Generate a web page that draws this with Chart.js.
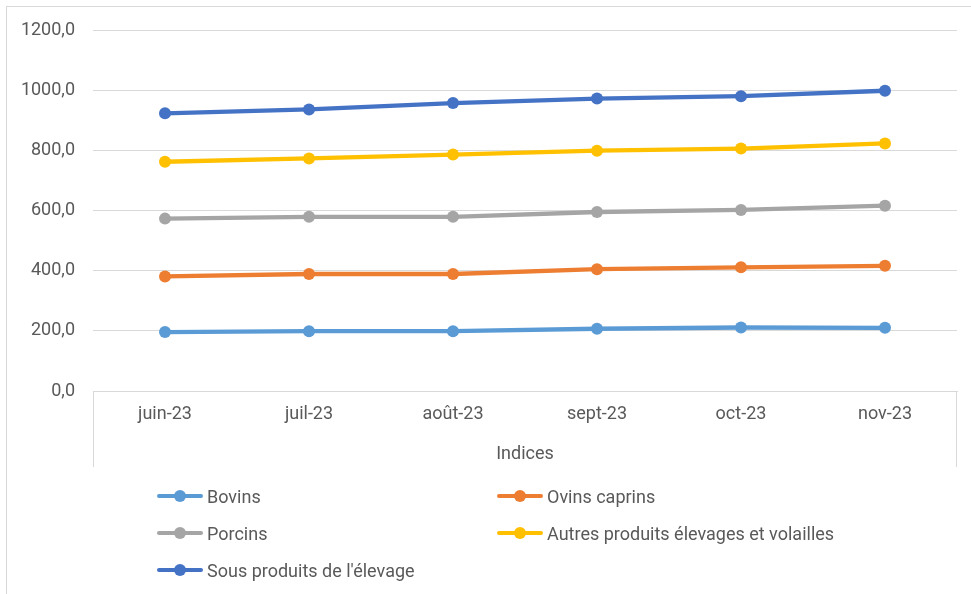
<!DOCTYPE html>
<html>
<head>
<meta charset="utf-8">
<script src="https://cdn.jsdelivr.net/npm/chart.js@4.4.1/dist/chart.umd.min.js"></script>
<style>
  html, body { margin: 0; padding: 0; background: #fff; }
  #wrap { position: relative; width: 971px; height: 594px; overflow: hidden; }
  #chart { position: absolute; left: 0; top: 0; }
  .lg { position: absolute; height: 22px; display: flex; align-items: center;
        font-family: Roboto, sans-serif; font-size: 18px; color: #595959; white-space: nowrap; }
  .sym { position: relative; width: 46px; height: 22px; margin-right: 4px; }
  .sym .ln { position: absolute; left: 0; right: 0; top: 9px; height: 4px; border-radius: 2px; }
  .sym .dt { position: absolute; left: 17px; top: 5px; width: 12px; height: 12px; border-radius: 50%; }
</style>
</head>
<body>
<div id="wrap">
  <canvas id="chart" width="971" height="594"></canvas>
</div>
<script>
// ---- data ----
const categories = ['juin-23', 'juil-23', 'août-23', 'sept-23', 'oct-23', 'nov-23'];
const seriesNames = ['Bovins', 'Ovins caprins', 'Porcins', 'Autres produits élevages et volailles', "Sous produits de l'élevage"];
const bovins = [196, 199, 199, 207, 211, 210];
const ovinsCaprins = [381, 389, 389, 405, 411, 416];
const porcins = [573, 579, 579, 595, 602, 616];
const autresProduits = [762, 773, 786, 799, 806, 823];
const sousProduits = [923, 936, 957, 972, 980, 998];
const axisTitle = 'Indices';
const yMin = 0, yMax = 1200, yStep = 200;

const colors = ['#5B9BD5', '#ED7D31', '#A5A5A5', '#FFC000', '#4472C4'];
const seriesValues = [bovins, ovinsCaprins, porcins, autresProduits, sousProduits];
const FONT = 'Roboto, sans-serif';
const TXT = '#595959';
const GRID = '#D9D9D9';

const datasets = seriesNames.map((name, i) => ({
  label: name,
  data: seriesValues[i],
  borderColor: colors[i],
  backgroundColor: colors[i],
  pointBackgroundColor: colors[i],
  pointBorderColor: colors[i],
  pointBorderWidth: 0,
  pointRadius: 6,
  borderWidth: 4.3,
  tension: 0,
  fill: false
}));

const framePlugin = {
  id: 'frame',
  beforeDraw(chart) {
    const ctx = chart.ctx;
    ctx.save();
    ctx.strokeStyle = GRID;
    ctx.lineWidth = 1;
    ctx.strokeRect(6.5, 6.5, 3000, 3000);
    ctx.restore();
  },
  afterDraw(chart) {
    const ctx = chart.ctx;
    const ca = chart.chartArea;
    const xs = chart.scales.x;
    ctx.save();
    ctx.strokeStyle = GRID;
    ctx.lineWidth = 1;
    ctx.beginPath();
    ctx.moveTo(Math.round(ca.left) + 0.5, ca.bottom);
    ctx.lineTo(Math.round(ca.left) + 0.5, xs.bottom);
    ctx.moveTo(Math.round(ca.right) - 0.5, ca.bottom);
    ctx.lineTo(Math.round(ca.right) - 0.5, xs.bottom);
    ctx.stroke();
    ctx.restore();
  }
};

const chart = new Chart(document.getElementById('chart'), {
  type: 'line',
  data: { labels: categories, datasets },
  plugins: [framePlugin],
  options: {
    responsive: false,
    animation: false,
    layout: { padding: { top: 30, right: 14, bottom: 127, left: 0 } },
    plugins: { legend: { display: false }, tooltip: { enabled: false } },
    scales: {
      x: {
        offset: true,
        grid: { display: false, drawTicks: false },
        border: { display: true, color: GRID, width: 1 },
        ticks: { font: { family: FONT, size: 18 }, color: TXT, padding: 13, maxRotation: 0 },
        title: { display: true, text: axisTitle, font: { family: FONT, size: 18 }, color: TXT, padding: { top: 0, bottom: 2 } },
        afterFit(scale) { scale.height = 76; }
      },
      y: {
        min: yMin, max: yMax,
        grid: { color: GRID, lineWidth: 1, drawTicks: false },
        border: { display: false },
        ticks: {
          stepSize: yStep,
          font: { family: FONT, size: 18 }, color: TXT, padding: 18,
          callback: v => v.toFixed(1).replace('.', ',')
        },
        afterFit(scale) { scale.width = 93; }
      }
    }
  }
});

// ---- legend (HTML, two columns) ----
const wrap = document.getElementById('wrap');
const colX = [157, 497];
const rowY = [496, 533, 570];
seriesNames.forEach((name, i) => {
  const d = document.createElement('div');
  d.className = 'lg';
  d.style.left = colX[i % 2] + 'px';
  d.style.top = (rowY[Math.floor(i / 2)] - 11) + 'px';
  d.innerHTML = '<span class="sym"><span class="ln" style="background:' + colors[i] + '"></span><span class="dt" style="background:' + colors[i] + '"></span></span>';
  const t = document.createElement('span');
  t.textContent = name;
  d.appendChild(t);
  wrap.appendChild(d);
});
</script>
</body>
</html>
